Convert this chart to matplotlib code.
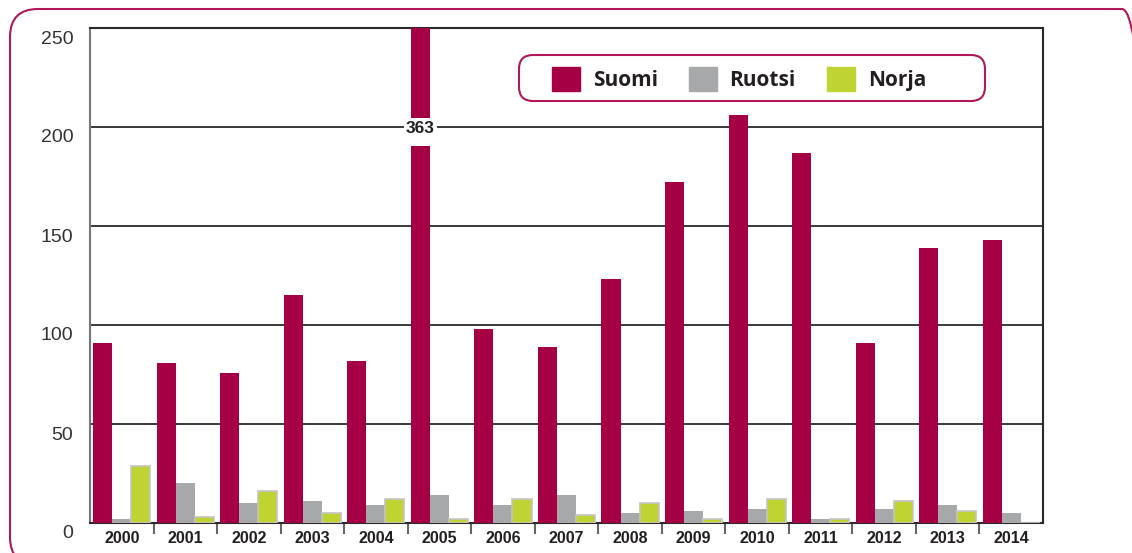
import matplotlib.pyplot as plt
import matplotlib.transforms as mtransforms
from matplotlib.patches import FancyBboxPatch, Patch
import numpy as np

# data
years = ["2000", "2001", "2002", "2003", "2004", "2005", "2006", "2007",
         "2008", "2009", "2010", "2011", "2012", "2013", "2014"]
suomi = [91, 81, 76, 115, 82, 363, 98, 89, 123, 172, 206, 187, 91, 139, 143]
ruotsi = [2, 20, 10, 11, 9, 14, 9, 14, 5, 6, 7, 2, 7, 9, 5]
norja = [29, 3, 16, 5, 12, 2, 12, 4, 10, 2, 12, 2, 11, 6, 0]
series_names = ["Suomi", "Ruotsi", "Norja"]
yticks = [0, 50, 100, 150, 200, 250]

c_suomi = "#a50044"
c_ruotsi = "#a7a8aa"
c_norja = "#bfd433"
c_frame = "#b0185a"

fig = plt.figure(figsize=(11.32, 5.53), dpi=100)
ax = fig.add_axes([90 / 1132, 30 / 553, 953 / 1132, 495 / 553])

x = np.arange(len(years))
w = 0.3
ax.bar(x - w, suomi, width=w, color=c_suomi, zorder=3)
ax.bar(x, ruotsi, width=w, color=c_ruotsi, zorder=3)
ax.bar(x + w, norja, width=w, color=c_norja, edgecolor="#c4c4c4",
       linewidth=1.2, zorder=3)

ax.set_xlim(-0.5, len(years) - 0.5)
ax.set_ylim(0, 250)

# the 2005 bar goes off the scale: break it and write the real value
i_big = years.index("2005")
lab_y = 199
ax.bar(x[i_big] - w, 14, bottom=lab_y - 8.5, width=w + 0.02, color="white",
       zorder=4)
ax.text(x[i_big] - w, lab_y, str(suomi[i_big]), ha="center", va="center",
        fontsize=12.5, fontweight="bold", family="Liberation Sans",
        color="#231f20", zorder=5,
        bbox=dict(boxstyle="square,pad=0.1", fc="white", ec="none"))

# grid
for v in yticks[1:-1]:
    ax.axhline(v, color="#2a2a2a", linewidth=1.3, zorder=2)

ax.spines["left"].set_color("#777777")
ax.spines["left"].set_linewidth(1.5)
for s in ["top", "right", "bottom"]:
    ax.spines[s].set_color("#2a2a2a")
    ax.spines[s].set_linewidth(1.5)

ax.set_yticks(yticks)
ax.set_yticklabels([str(v) for v in yticks], fontsize=14,
                   family="Liberation Sans", color="#333333")
ax.tick_params(axis="y", length=0, pad=12)
offset = mtransforms.ScaledTranslation(0, -9 / 100, fig.dpi_scale_trans)
for lab in ax.get_yticklabels():
    lab.set_transform(lab.get_transform() + offset)

ax.set_xticks(x)
ax.set_xticklabels(years, fontsize=11.5, fontweight="bold",
                   family="Liberation Sans", color="#231f20")
ax.tick_params(axis="x", length=0, pad=6)
ax.set_xticks(x[:-1] + 0.5, minor=True)
ax.tick_params(axis="x", which="minor", length=8, width=1.5,
               color="#666666", direction="out")

# legend
handles = [Patch(color=c) for c in [c_suomi, c_ruotsi, c_norja]]
leg = fig.legend(handles, series_names, loc="center left",
                 bbox_to_anchor=(552 / 1132, 1 - 79 / 553), ncol=3,
                 frameon=False, borderpad=0, borderaxespad=0,
                 handlelength=1.35, handleheight=1.35, handletextpad=0.6,
                 columnspacing=1.5,
                 prop=dict(family="Open Sans", weight="bold", size=15))
for t in leg.get_texts():
    t.set_color("#231f20")

px = mtransforms.IdentityTransform()
fig.patches.append(FancyBboxPatch((519, 553 - 101), 466, 46,
                                  boxstyle="round,pad=0,rounding_size=14",
                                  transform=px, fc="none", ec=c_frame,
                                  lw=1.5, zorder=10))
# outer rounded frame, runs off the right and bottom edges
fig.patches.append(FancyBboxPatch((10, -12), 1140, 556,
                                  boxstyle="round,pad=0,rounding_size=28",
                                  transform=px, fc="none", ec=c_frame,
                                  lw=1.5, zorder=10))

fig.savefig("out.png", dpi=100)
